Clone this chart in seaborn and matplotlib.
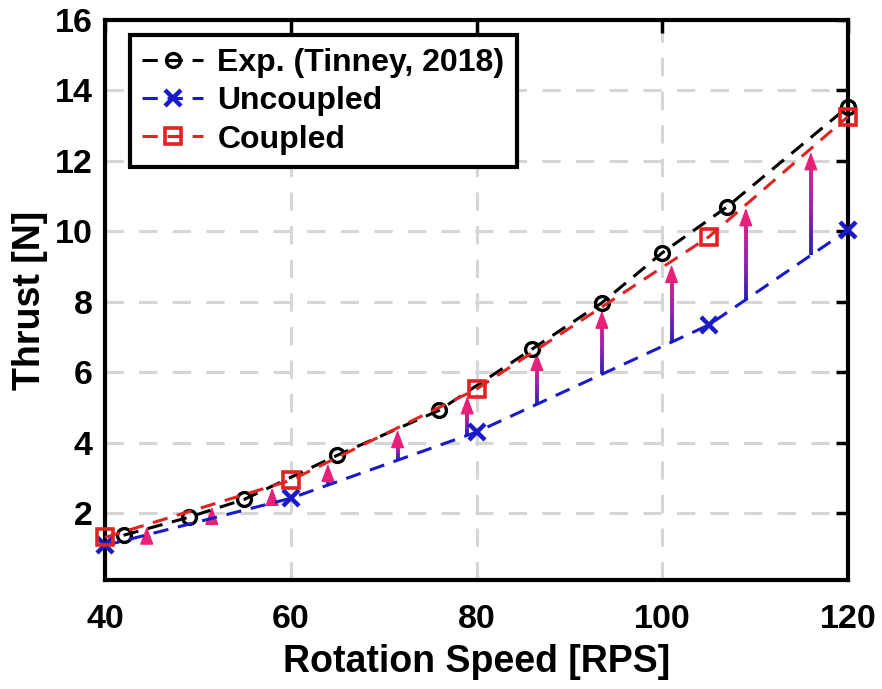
import numpy as np
import pandas as pd
import matplotlib
matplotlib.use("Agg")
import matplotlib.pyplot as plt
import seaborn as sns
from matplotlib.collections import LineCollection
from matplotlib.colors import LinearSegmentedColormap

# ---------------- data ----------------
exp_rps = [42, 49, 55, 65, 76, 86, 93.5, 100, 107, 120]
exp_thrust = [1.37, 1.88, 2.39, 3.64, 4.92, 6.66, 7.97, 9.39, 10.70, 13.54]

unc_rps = [40, 60, 80, 105, 120]
unc_thrust = [1.08, 2.42, 4.30, 7.34, 10.04]

cpl_rps = [40, 60, 80, 105, 120]
cpl_thrust = [1.31, 2.93, 5.52, 9.84, 13.26]

arrow_rps = [44.5, 51.5, 58, 64, 71.5, 79, 86.5, 93.5, 101, 109, 116]
arrow_from = [1.38, 1.85, 2.29, 2.80, 3.50, 4.21, 5.09, 5.94, 6.85, 8.06, 9.32]
arrow_to = [1.62, 2.18, 2.72, 3.40, 4.36, 5.32, 6.55, 7.75, 9.05, 10.66, 12.25]

xticks = [40, 60, 80, 100, 120]
yticks = [2, 4, 6, 8, 10, 12, 14, 16]

# ---------------- style ----------------
sns.set_theme(style="white")
plt.rcParams['font.family'] = ['Liberation Sans', 'DejaVu Sans']
plt.rcParams['font.weight'] = 'bold'
plt.rcParams['text.color'] = 'black'
plt.rcParams['axes.labelcolor'] = 'black'
plt.rcParams['xtick.color'] = 'black'
plt.rcParams['ytick.color'] = 'black'

fig = plt.figure(figsize=(8.82, 6.89), dpi=100)
ax = fig.add_axes([105/882, 1-580/689, (848-105)/882, (580-20)/689])

BLUE = '#1a1ac8'
RED = '#e02424'
PINK = '#e8207a'
GRID = '#d6d6d6'

# grid
for xv in [60, 80, 100]:
    ax.axvline(xv, color=GRID, lw=2.2, dashes=(6, 5), zorder=0)
for yv in yticks[:-1]:
    ax.axhline(yv, color=GRID, lw=2.2, dashes=(6, 5), zorder=0)

# arrows with gradient shaft
cmap = LinearSegmentedColormap.from_list('bp', ['#2a22b8', '#9a20b0', '#e0207f'])
head_len = 0.40
for xa, y0, y1 in zip(arrow_rps, arrow_from, arrow_to):
    ys = np.linspace(y0, y1 - head_len * 0.8, 30)
    pts = np.array([[xa, yy] for yy in ys])
    segs = np.stack([pts[:-1], pts[1:]], axis=1)
    lc = LineCollection(segs, colors=cmap(np.linspace(0, 1, len(segs))),
                        linewidths=2.8, zorder=2, capstyle='butt')
    ax.add_collection(lc)
    ax.annotate('', xy=(xa, y1), xytext=(xa, y1 - head_len),
                arrowprops=dict(arrowstyle='-|>,head_length=0.75,head_width=0.28',
                                mutation_scale=15, color=PINK, lw=1.0,
                                shrinkA=0, shrinkB=0), zorder=3)

df_exp = pd.DataFrame({'x': exp_rps, 'y': exp_thrust})
df_unc = pd.DataFrame({'x': unc_rps, 'y': unc_thrust})
df_cpl = pd.DataFrame({'x': cpl_rps, 'y': cpl_thrust})

sns.lineplot(data=df_exp, x='x', y='y', ax=ax, color='black', lw=2.2,
             marker='o', markersize=10, markerfacecolor='none',
             markeredgecolor='black', markeredgewidth=2.4, sort=False,
             errorbar=None, zorder=4, label='Exp. (Tinney, 2018)', clip_on=False)
sns.lineplot(data=df_unc, x='x', y='y', ax=ax, color=BLUE, lw=2.2,
             marker='x', markersize=11, markeredgewidth=3.2,
             markeredgecolor=BLUE, sort=False,
             errorbar=None, zorder=4, label='Uncoupled', clip_on=False)
sns.lineplot(data=df_cpl, x='x', y='y', ax=ax, color=RED, lw=2.2,
             marker='s', markersize=11, markerfacecolor='none',
             markeredgecolor=RED, markeredgewidth=2.6, sort=False,
             errorbar=None, zorder=5, label='Coupled', clip_on=False)
for ln in ax.get_lines()[-3:]:
    ln.set_dashes((5.0, 3.2))

ax.set_xlim(40, 120)
ax.set_ylim(0.1, 16)
ax.set_xticks(xticks)
ax.set_yticks(yticks)
ax.tick_params(direction='in', length=9, width=2.5, top=True, right=True,
               labelsize=24.5, colors='black')
ax.tick_params(axis='x', pad=17)
ax.tick_params(axis='y', pad=9)
for lab in ax.get_xticklabels() + ax.get_yticklabels():
    lab.set_fontweight('bold')
    lab.set_color('black')
for sp in ax.spines.values():
    sp.set_linewidth(3)
    sp.set_color('black')

ax.set_xlabel('Rotation Speed [RPS]', fontsize=27, fontweight='bold',
              labelpad=7, color='black')
ax.set_ylabel('Thrust [N]', fontsize=27, fontweight='bold', labelpad=5,
              color='black')

leg = ax.legend(loc='upper left', bbox_to_anchor=(0.033, 0.973), fontsize=23,
                frameon=True, fancybox=False, edgecolor='black',
                handlelength=1.9, handletextpad=0.45, borderpad=0.4,
                labelspacing=0.26, borderaxespad=0)
leg.get_frame().set_linewidth(3)
leg.get_frame().set_alpha(1)
for t in leg.get_texts():
    t.set_fontweight('bold')
    t.set_color('black')

fig.savefig('out.png', dpi=100)
